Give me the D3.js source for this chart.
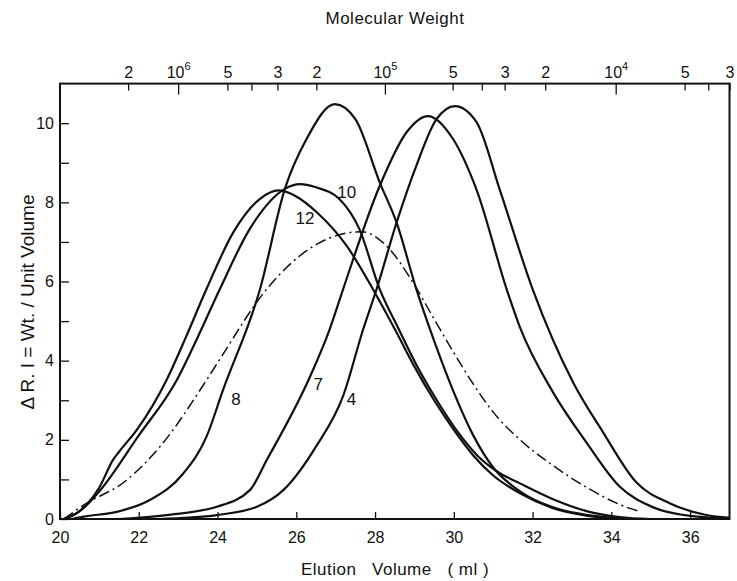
<!DOCTYPE html>
<html>
<head>
<meta charset="utf-8">
<script src="https://cdn.jsdelivr.net/npm/d3@7"></script>
<style>
body{margin:0;background:#fff}
text{font-family:"Liberation Sans",Arial,sans-serif;fill:#111}
</style>
</head>
<body>
<svg id="chart"></svg>
<script>
// elution curves, [elution volume (ml), delta R.I.]
var curve4 = [[22.5,0],[23.98,0.1],[25.0,0.31],[25.67,0.73],[26.5,1.83],[27.19,3.11],[27.7,4.8],[28.04,5.81],[28.55,7.5],[29.05,8.93],[29.56,10.1],[30.03,10.43],[30.58,10.02],[31.17,8.31],[32.0,5.81],[33.03,3.45],[33.79,2.19],[34.64,0.92],[35.48,0.4],[36.41,0.1],[37,0.03]];
var curve7 = [[21.5,0],[22.7,0.1],[23.98,0.31],[24.82,0.73],[25.25,1.49],[26.35,3.6],[26.85,4.8],[27.19,5.81],[28.12,8.42],[28.8,9.77],[29.34,10.18],[29.98,9.6],[30.58,8.31],[31.34,5.81],[31.68,4.84],[32.52,3.2],[33.37,1.93],[34.21,0.82],[35.05,0.3],[36.0,0.08],[37,0.02]];
var curve8 = [[20.3,0],[20.6,0.06],[21.44,0.18],[22.28,0.48],[23.13,1.15],[23.72,2.08],[24.14,3.26],[25.08,5.81],[25.71,8.34],[26.26,9.6],[26.98,10.48],[27.5,10.1],[28.12,8.5],[28.55,7.48],[29.05,5.8],[29.5,4.5],[30.0,3.2],[30.5,2.1],[31.0,1.3],[31.68,0.7],[32.5,0.3],[33.4,0.1],[34.2,0.02]];
var curve10 = [[20.1,0],[20.5,0.2],[21.0,0.7],[21.35,1.16],[21.95,2.04],[22.96,3.5],[23.5,4.6],[24.06,5.81],[24.82,7.33],[25.71,8.34],[26.09,8.46],[26.5,8.38],[27.1,8.08],[27.6,7.33],[28.12,5.8],[28.6,4.8],[29.1,3.8],[29.6,2.95],[30.1,2.2],[30.6,1.6],[31.1,1.2],[31.68,0.9],[32.52,0.5],[33.37,0.2],[34.2,0.05],[35,0]];
var curve12 = [[20.1,0],[20.5,0.2],[21.0,0.8],[21.35,1.5],[21.5,1.7],[21.95,2.25],[22.7,3.5],[23.2,4.6],[23.72,5.81],[24.4,7.24],[25.08,8.09],[25.55,8.3],[26.0,8.15],[26.52,7.75],[27.28,6.9],[27.95,5.8],[28.5,4.8],[29.0,3.85],[29.5,3.0],[30.0,2.25],[30.5,1.6],[31.0,1.1],[31.68,0.65],[32.5,0.28],[33.4,0.08],[34.2,0]];
var curveDash = [[20.1,0],[20.6,0.35],[21.69,0.98],[22.54,1.83],[23.72,3.51],[24.06,4.04],[25.25,5.81],[26.09,6.65],[26.93,7.13],[27.66,7.26],[28.29,6.9],[28.96,5.98],[29.5,5.05],[30.0,4.2],[30.5,3.4],[31.0,2.7],[31.68,2.0],[32.52,1.35],[33.37,0.8],[34.38,0.3],[34.7,0.2]];

// curve numbers and where they are written
var labelText = ['10','12','8','7','4'];
var labelVol = [27.28, 26.22, 24.47, 26.56, 27.4];
var labelRI = [8.26, 7.6, 3.03, 3.41, 3.03];

// molecular weight calibration (top axis)
var mwTicks = [2e6,1e6,5e5,4e5,3e5,2e5,1e5,5e4,4e4,3e4,2e4,1e4,5e3,4e3,3e3];
var mwVolume = [21.73,23.0,24.25,24.86,25.52,26.51,28.25,29.97,30.71,31.29,32.32,34.11,35.86,36.46,37.0];

var volTicks = [20,22,24,26,28,30,32,34,36];
var riTicks = [0,1,2,3,4,5,6,7,8,9,10];

var width = 737;
var height = 581;

var svg = d3.select('#chart')
    .attr('width', width)
    .attr('height', height);

var xscale = d3.scaleLinear().domain([20, 37]).range([60, 729.5]);
var yscale = d3.scaleLinear().domain([0, 11]).range([519, 83.6]);

// axes
var xaxis = d3.axisBottom(xscale)
    .tickValues(volTicks)
    .tickSizeInner(-7)
    .tickSizeOuter(0)
    .tickPadding(13);

var yaxis = d3.axisLeft(yscale)
    .tickValues(riTicks)
    .tickSizeInner(-9)
    .tickSizeOuter(0)
    .tickPadding(6)
    .tickFormat(d => d % 2 == 0 ? d : '');

var mwscale = d3.scaleOrdinal().domain(mwTicks).range(mwVolume.map(v => xscale(v)));
var topaxis = d3.axisTop(mwscale)
    .tickValues(mwTicks)
    .tickSizeInner(-7)
    .tickSizeOuter(0)
    .tickPadding(5)
    .tickFormat('');

var gx = svg.append('g')
    .attr('transform', `translate(0, ${yscale(0)})`)
    .call(xaxis);
var gy = svg.append('g')
    .attr('transform', `translate(${xscale(20)}, 0)`)
    .call(yaxis);
var gt = svg.append('g')
    .attr('transform', `translate(0, ${yscale(11)})`)
    .call(topaxis);

[gx, gy, gt].forEach(g => {
    g.select('.domain').remove();
    g.selectAll('line').attr('stroke', '#111').attr('stroke-width', 1.3);
    g.selectAll('text').attr('font-size', 16).attr('fill', '#111')
        .attr('font-family', '"Liberation Sans", Arial, sans-serif');
});

// decades get a longer tick
gt.selectAll('.tick line').attr('y2', d => Number.isInteger(Math.log10(d)) ? 11 : 7);

// top tick labels: mantissa digit or 10 with exponent
gt.selectAll('.tick').each(function(d){
    var e = Math.log10(d);
    var t = d3.select(this).append('text')
        .attr('y', -6)
        .attr('text-anchor', 'middle')
        .attr('font-size', 16)
        .attr('fill', '#111');
    if (Number.isInteger(e)) {
        t.append('tspan').text('10');
        t.append('tspan').attr('dy', -8).attr('font-size', 11).text(e);
    } else {
        var m = Math.round(d / Math.pow(10, Math.floor(e)));
        if (m != 4) t.text(m);
    }
});

// frame
svg.append('rect')
    .attr('x', xscale(20))
    .attr('y', yscale(11))
    .attr('width', xscale(37) - xscale(20))
    .attr('height', yscale(0) - yscale(11))
    .attr('fill', 'none')
    .attr('stroke', '#111')
    .attr('stroke-width', 2);

// curves
var line = d3.line()
    .x(d => xscale(d[0]))
    .y(d => yscale(d[1]))
    .curve(d3.curveMonotoneX);

var solid = [curve4, curve7, curve8, curve10, curve12];
svg.selectAll('path.solid')
    .data(solid)
    .join('path')
    .attr('class', 'solid')
    .attr('d', line)
    .attr('fill', 'none')
    .attr('stroke', '#111')
    .attr('stroke-width', 2.2);

svg.append('path')
    .attr('d', line(curveDash))
    .attr('fill', 'none')
    .attr('stroke', '#111')
    .attr('stroke-width', 1.5)
    .attr('stroke-dasharray', '11 4 2 4');

// curve labels
svg.selectAll('text.clabel')
    .data(labelText)
    .join('text')
    .attr('class', 'clabel')
    .attr('x', (d, i) => xscale(labelVol[i]))
    .attr('y', (d, i) => yscale(labelRI[i]))
    .attr('dy', '0.35em')
    .attr('text-anchor', 'middle')
    .attr('font-size', 17)
    .text(d => d);

// titles
svg.append('text')
    .attr('x', 395)
    .attr('y', 24)
    .attr('text-anchor', 'middle')
    .attr('font-size', 17)
    .attr('letter-spacing', 0.5)
    .text('Molecular  Weight');

svg.append('text')
    .attr('x', 395)
    .attr('y', 575)
    .attr('text-anchor', 'middle')
    .attr('font-size', 17)
    .attr('letter-spacing', 0.5)
    .attr('xml:space', 'preserve')
    .text('Elution   Volume   ( ml )');

svg.append('text')
    .attr('transform', 'translate(34, 302) rotate(-90)')
    .attr('text-anchor', 'middle')
    .attr('font-size', 19)
    .text('\u0394 R. I = Wt. / Unit Volume');
</script>
</body>
</html>
